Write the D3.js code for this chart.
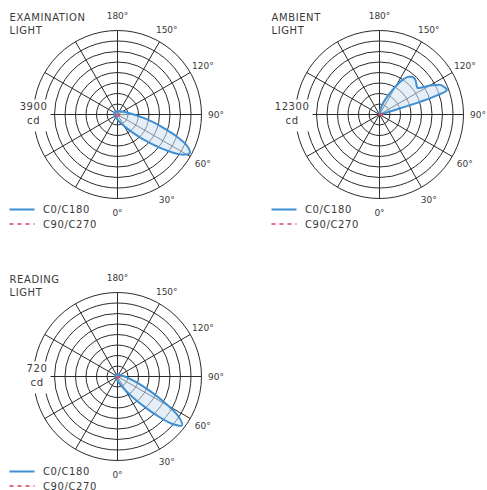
<!DOCTYPE html>
<html>
<head>
<meta charset="utf-8">
<script src="https://cdn.jsdelivr.net/npm/d3@7"></script>
<style>
body { margin: 0; background: #fff; }
text { font-family: "DejaVu Sans", sans-serif; fill: #3a3a3a; }
</style>
</head>
<body>
<div id="chart"></div>
<script>
// polar grid labels (gamma angles shown on the right half)
var degreeTicks = [0, 30, 60, 90, 120, 150, 180];
var legendNames = ["C0/C180", "C90/C270"];

// coarse gamma steps used for the small curves
var gammaCoarse = [0, 30, 60, 90, 120, 150, 180];

// EXAMINATION LIGHT, 3900 cd
var examTitle = ["EXAMINATION", "LIGHT"];
var examMax = 3900;
var examGamma = [0, 9, 24, 34, 41, 46, 50, 54, 58, 62, 66, 70, 74, 78, 83, 90, 100, 115, 129, 152, 180];
var examC0 = [230, 300, 486, 763, 1181, 1665, 2195, 2860, 3514, 3800, 3514, 2860, 2195, 1665, 1181, 763, 486, 300, 220, 170, 150];
var examC180 = [230, 170, 150, 150, 160, 160, 150];
var examC90 = [80, 90, 100, 70, 30, 0, 0];
var examC270 = [80, 90, 100, 70, 30, 0, 0];

// AMBIENT LIGHT, 12300 cd
var ambTitle = ["AMBIENT", "LIGHT"];
var ambMax = 12300;
var ambGamma = [0, 30, 60, 90, 100, 104, 106, 108, 110, 113, 116, 119, 122, 125, 128, 131, 134, 137, 140, 143, 146, 150, 155, 162, 170, 180];
var ambC0 = [0, 0, 20, 80, 300, 800, 2000, 8000, 10500, 10300, 9900, 8800, 7600, 6800, 6900, 7100, 7300, 7350, 7200, 6900, 6200, 4800, 3200, 1800, 700, 150];
var ambC180 = [0, 0, 0, 0, 0, 40, 150];
var ambC90 = [0, 100, 300, 600, 300, 80, 0];
var ambC270 = [0, 50, 100, 100, 50, 0, 0];

// READING LIGHT, 720 cd
var readTitle = ["READING", "LIGHT"];
var readMax = 720;
var readGamma = [0, 15, 25, 32, 37, 41, 45, 49, 53, 57, 61, 65, 69, 74, 81, 90, 106, 120, 143, 180];
var readC0 = [34, 61, 99, 159, 236, 328, 462, 617, 694, 617, 462, 328, 236, 159, 99, 61, 34, 25, 20, 20];
var readC180 = [34, 25, 20, 20, 20, 20, 20];
var readC90 = [10, 15, 15, 10, 5, 0, 0];
var readC270 = [10, 15, 15, 10, 5, 0, 0];

var w = 487, h = 490, R = 84;
var blue = "#3f8fd2", red = "#d8405a", grid = "#2b2b2b";

var svg = d3.select("#chart").append("svg")
	.attr("width", w)
	.attr("height", h)

drawPolar(117.5, 114.5, examTitle, examMax, examGamma, examC0, examC180, examC90, examC270);
drawPolar(379.5, 114.5, ambTitle, ambMax, ambGamma, ambC0, ambC180, ambC90, ambC270);
drawPolar(117.5, 376.5, readTitle, readMax, readGamma, readC0, readC180, readC90, readC270);

// right half curve goes 0 -> 180, left half comes back 180 -> 0
function halves(gRight, vRight, gLeft, vLeft) {
	var pts = [];
	gRight.forEach(function(g, i) {
		pts.push({a: Math.PI - g * Math.PI / 180, v: vRight[i]});
	})
	for (var i = gLeft.length - 2; i > 0; i--) {
		pts.push({a: Math.PI + gLeft[i] * Math.PI / 180, v: vLeft[i]});
	}
	return pts;
}

function drawPolar(cx, cy, title, maxCd, gamma, c0, c180, c90, c270) {
	var g = svg.append("g").attr("transform", "translate(" + cx + "," + cy + ")");

	var r = d3.scaleLinear()
		.domain([0, maxCd])
		.range([0, R])

	var rings = d3.range(1, 9).map(function(k) { return maxCd * k / 8; });

	g.selectAll(".ring")
		.data(rings)
		.enter()
		.append("circle")
		.attr("r", function(d) { return r(d); })
		.style("fill", "none")
		.style("stroke", grid)
		.style("stroke-width", 1)

	g.selectAll(".spoke")
		.data(d3.range(0, 360, 30))
		.enter()
		.append("line")
		.attr("x1", 0)
		.attr("y1", 0)
		.attr("x2", function(d) { return r(maxCd) * Math.sin(d * Math.PI / 180); })
		.attr("y2", function(d) { return r(maxCd) * Math.cos(d * Math.PI / 180); })
		.style("stroke", grid)
		.style("stroke-width", 1)

	// intensity label, sits on a white box over the outer ring
	var lab = g.append("g");
	var box = lab.append("rect").style("fill", "#fff");
	var num = lab.append("text")
		.text(maxCd)
		.attr("x", -70)
		.attr("y", -5)
		.style("font-size", "10px")
		.style("letter-spacing", "0.6px")
		.style("text-anchor", "end")
	var nb = num.node().getBBox();
	lab.append("text")
		.text("cd")
		.attr("x", nb.x + nb.width / 2)
		.attr("y", 9)
		.style("font-size", "10px")
		.style("letter-spacing", "0.6px")
		.style("text-anchor", "middle")
	box.attr("x", nb.x - 3).attr("y", -15).attr("width", nb.width + 6).attr("height", 32)

	var line = d3.lineRadial()
		.angle(function(d) { return d.a; })
		.radius(function(d) { return r(d.v); })
		.curve(d3.curveCatmullRomClosed.alpha(0.5))

	g.append("path")
		.attr("d", line(halves(gamma, c0, gammaCoarse, c180)))
		.style("fill", "#cfe2f5")
		.style("fill-opacity", 0.55)
		.style("stroke", blue)
		.style("stroke-width", 2)

	g.append("path")
		.attr("d", line(halves(gammaCoarse, c90, gammaCoarse, c270)))
		.style("fill", "none")
		.style("stroke", red)
		.style("stroke-width", 1.5)
		.style("stroke-dasharray", "3,2")

	g.selectAll(".deg")
		.data(degreeTicks)
		.enter()
		.append("text")
		.text(function(d) { return d + "°"; })
		.attr("x", function(d) { return 98.5 * Math.sin(d * Math.PI / 180); })
		.attr("y", function(d) { return 98.5 * Math.cos(d * Math.PI / 180) + 3.3; })
		.style("font-size", "9px")
		.style("text-anchor", "middle")

	g.selectAll(".title")
		.data(title)
		.enter()
		.append("text")
		.text(function(d) { return d; })
		.attr("x", -108)
		.attr("y", function(d, i) { return -94 + i * 13.6; })
		.style("font-size", "10px")
		.style("letter-spacing", "0.6px")

	var leg = g.selectAll(".leg")
		.data(legendNames)
		.enter()
		.append("g")
		.attr("transform", function(d, i) { return "translate(-108," + (95 + i * 14.5) + ")"; })

	leg.append("line")
		.attr("x1", 0)
		.attr("x2", 25)
		.style("stroke", function(d, i) { return i == 0 ? blue : red; })
		.style("stroke-width", function(d, i) { return i == 0 ? 2 : 1.5; })
		.style("stroke-dasharray", function(d, i) { return i == 0 ? null : "4,4"; })

	leg.append("text")
		.text(function(d) { return d; })
		.attr("x", 33.5)
		.attr("y", 3.6)
		.style("font-size", "10px")
		.style("letter-spacing", "0.6px")
}
</script>
</body>
</html>
